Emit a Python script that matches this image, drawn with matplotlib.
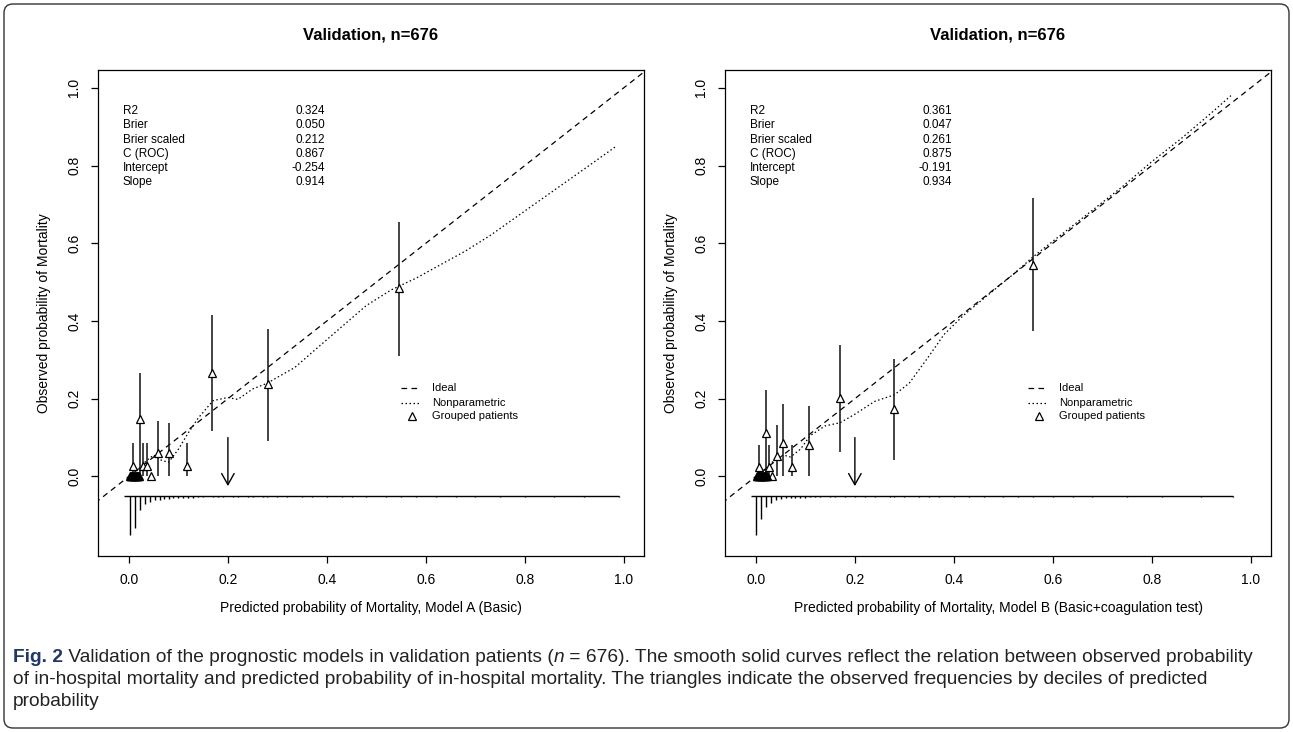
import matplotlib
matplotlib.use('Agg')
import matplotlib.pyplot as plt
from matplotlib.patches import FancyBboxPatch
from matplotlib.transforms import IdentityTransform

plt.rcParams['font.family'] = ['Liberation Sans', 'DejaVu Sans']

# statistics box
stat_names = ['R2', 'Brier', 'Brier scaled', 'C (ROC)', 'Intercept', 'Slope']
stats_a = ['0.324', '0.050', '0.212', '0.867', '-0.254', '0.914']
stats_b = ['0.361', '0.047', '0.261', '0.875', '-0.191', '0.934']

# grouped patients: predicted, observed, CI low, CI high
grp_a_x = [0.008, 0.023, 0.028, 0.037, 0.045, 0.059, 0.081, 0.117, 0.168, 0.282, 0.545]
grp_a_y = [0.028, 0.148, 0.028, 0.028, 0.0, 0.060, 0.059, 0.028, 0.265, 0.237, 0.484]
grp_a_lo = [0.0, 0.0, 0.0, 0.0, 0.0, 0.0, 0.0, 0.0, 0.117, 0.090, 0.311]
grp_a_hi = [0.086, 0.267, 0.086, 0.086, 0.0, 0.142, 0.138, 0.086, 0.415, 0.380, 0.655]
zero_a_x = [0.002, 0.0035, 0.005, 0.0065, 0.008, 0.0095, 0.011, 0.0125, 0.014,
            0.0155, 0.017, 0.0185, 0.020]

grp_b_x = [0.006, 0.021, 0.026, 0.033, 0.042, 0.054, 0.072, 0.108, 0.170, 0.280, 0.560]
grp_b_y = [0.024, 0.112, 0.024, 0.0, 0.052, 0.087, 0.024, 0.081, 0.203, 0.174, 0.545]
grp_b_lo = [0.0, 0.0, 0.0, 0.0, 0.0, 0.0, 0.0, 0.0, 0.062, 0.043, 0.373]
grp_b_hi = [0.081, 0.222, 0.081, 0.0, 0.131, 0.187, 0.081, 0.181, 0.338, 0.302, 0.717]
zero_b_x = [0.002, 0.0035, 0.005, 0.0065, 0.008, 0.0095, 0.011, 0.0125, 0.014,
            0.0155, 0.017, 0.0185, 0.020, 0.022]

# nonparametric calibration curves
np_a_x = [0.003, 0.02, 0.035, 0.05, 0.065, 0.08, 0.10, 0.12, 0.14, 0.17, 0.20, 0.22,
          0.25, 0.28, 0.30, 0.335, 0.38, 0.43, 0.48, 0.53, 0.58, 0.63, 0.68, 0.73,
          0.78, 0.83, 0.88, 0.93, 0.985]
np_a_y = [0.0, 0.02, 0.04, 0.055, 0.042, 0.036, 0.07, 0.112, 0.15, 0.195, 0.203, 0.198,
          0.225, 0.24, 0.255, 0.28, 0.33, 0.385, 0.44, 0.48, 0.51, 0.545, 0.58, 0.62,
          0.665, 0.71, 0.755, 0.80, 0.85]
np_b_x = [0.003, 0.02, 0.04, 0.055, 0.07, 0.09, 0.11, 0.14, 0.17, 0.20, 0.24, 0.28,
          0.31, 0.35, 0.38, 0.42, 0.47, 0.52, 0.56, 0.62, 0.68, 0.74, 0.80, 0.86, 0.92,
          0.96]
np_b_y = [0.0, 0.02, 0.045, 0.055, 0.05, 0.07, 0.105, 0.13, 0.138, 0.16, 0.193, 0.21,
          0.24, 0.31, 0.365, 0.415, 0.468, 0.52, 0.565, 0.625, 0.685, 0.745, 0.81, 0.87,
          0.935, 0.98]

# risk distribution spikes below the plot
rug_a_x = [0.002, 0.012, 0.022, 0.032, 0.042, 0.052, 0.062, 0.07, 0.08, 0.09, 0.10,
           0.11, 0.12, 0.13, 0.14, 0.15, 0.17, 0.18, 0.19, 0.21, 0.22, 0.24, 0.25, 0.27,
           0.28, 0.30, 0.32, 0.35, 0.37, 0.40, 0.43, 0.45, 0.48, 0.52, 0.55, 0.58, 0.62,
           0.66, 0.70, 0.75, 0.80, 0.86, 0.92, 0.99]
rug_a_len = [0.101, 0.082, 0.036, 0.022, 0.015, 0.012, 0.010, 0.008, 0.007, 0.006,
             0.006, 0.005, 0.005, 0.005, 0.004, 0.004, 0.004, 0.004, 0.004, 0.004,
             0.004, 0.004, 0.004, 0.004, 0.004, 0.004, 0.004, 0.004, 0.004, 0.004,
             0.004, 0.004, 0.004, 0.004, 0.004, 0.004, 0.004, 0.004, 0.004, 0.004,
             0.004, 0.004, 0.004, 0.004]
rug_b_x = [0.001, 0.011, 0.021, 0.030, 0.040, 0.050, 0.061, 0.07, 0.08, 0.09, 0.10,
           0.11, 0.12, 0.13, 0.15, 0.16, 0.18, 0.20, 0.22, 0.24, 0.27, 0.28, 0.30, 0.33,
           0.35, 0.37, 0.40, 0.43, 0.46, 0.50, 0.53, 0.56, 0.60, 0.64, 0.68, 0.75, 0.82,
           0.90, 0.965]
rug_b_len = [0.101, 0.060, 0.028, 0.019, 0.012, 0.009, 0.006, 0.006, 0.005, 0.005,
             0.005, 0.004, 0.004, 0.004, 0.004, 0.004, 0.004, 0.004, 0.004, 0.004,
             0.004, 0.004, 0.004, 0.004, 0.004, 0.004, 0.004, 0.004, 0.004, 0.004,
             0.004, 0.004, 0.004, 0.004, 0.004, 0.004, 0.004, 0.004, 0.004]

ticks = [0.0, 0.2, 0.4, 0.6, 0.8, 1.0]
tick_labels = ['0.0', '0.2', '0.4', '0.6', '0.8', '1.0']
cutoff = 0.2
rug_base = -0.05
rug_start = -0.01

caption_lines = [
    [('Fig. 2', 'bold', 'normal'),
     (' Validation of the prognostic models in validation patients (', 'normal', 'normal'),
     ('n', 'normal', 'italic'),
     (' = 676). The smooth solid curves reflect the relation between observed probability',
      'normal', 'normal')],
    [('of in-hospital mortality and predicted probability of in-hospital mortality. '
      'The triangles indicate the observed frequencies by deciles of predicted',
      'normal', 'normal')],
    [('probability', 'normal', 'normal')],
]

DASHED = (0, (4.5, 3.5))
DOTTED = (0, (1.2, 2.0))


def draw_panel(ax, title, xlabel, stats, gx, gy, glo, ghi, zx, cx, cy, rx, rlen):
    ax.set_xlim(-0.0625, 1.041)
    ax.set_ylim(-0.205, 1.046)

    # ideal line
    ax.plot([-0.1, 1.1], [-0.1, 1.1], color='black', lw=0.9, ls=DASHED)
    # nonparametric
    ax.plot(cx, cy, color='black', lw=0.9, ls=DOTTED)

    # grouped patients with CI bars
    ax.vlines(gx, glo, ghi, color='#111111', lw=1.1)
    ax.plot(gx, gy, ls='none', marker='^', ms=5.5, mfc='white', mec='black', mew=0.9)
    ax.plot(zx, [0.0] * len(zx), ls='none', marker='^', ms=5.5, mfc='none',
            mec='black', mew=1.0)

    # risk distribution
    ax.hlines(rug_base, rug_start, max(rx), color='black', lw=1.0)
    ax.vlines(rx, [rug_base - v for v in rlen], rug_base, color='black', lw=1.0)

    # cutoff arrow
    ax.annotate('', xy=(cutoff, -0.025), xytext=(cutoff, 0.1),
                arrowprops=dict(arrowstyle='->,head_length=0.8,head_width=0.45',
                                color='black', lw=1.0, shrinkA=0, shrinkB=0))

    # statistics
    for i, (name, val) in enumerate(zip(stat_names, stats)):
        yy = 0.94 - i * 0.0365
        ax.text(-0.012, yy, name, fontsize=8.5, va='center', ha='left')
        ax.text(0.396, yy, val, fontsize=8.5, va='center', ha='right')

    # legend
    leg_y = [0.228, 0.19, 0.155]
    ax.plot([0.55, 0.59], [leg_y[0]] * 2, color='black', lw=0.9, ls=DASHED)
    ax.plot([0.55, 0.59], [leg_y[1]] * 2, color='black', lw=0.9, ls=DOTTED)
    ax.plot([0.572], [leg_y[2]], ls='none', marker='^', ms=5.5, mfc='none',
            mec='black', mew=0.9)
    for yy, lab in zip(leg_y, ['Ideal', 'Nonparametric', 'Grouped patients']):
        ax.text(0.613, yy, lab, fontsize=8, va='center', ha='left')

    ax.set_xticks(ticks)
    ax.set_xticklabels(tick_labels)
    ax.set_yticks(ticks)
    ax.set_yticklabels(tick_labels)
    ax.tick_params(direction='out', length=5, width=0.9, labelsize=10, pad=7)
    for lab in ax.get_yticklabels():
        lab.set_rotation(90)
        lab.set_va('center')
    for sp in ax.spines.values():
        sp.set_linewidth(0.9)
    ax.set_title(title, fontsize=12, fontweight='bold', pad=22)
    ax.set_xlabel(xlabel, fontsize=10, labelpad=10)
    ax.set_ylabel('Observed probability of Mortality', fontsize=10, labelpad=12)


fig = plt.figure(figsize=(12.93, 7.32), dpi=100)
ax1 = fig.add_axes([0.0758, 0.2404, 0.4223, 0.664])
ax2 = fig.add_axes([0.5607, 0.2404, 0.4223, 0.664])

draw_panel(ax1, 'Validation, n=676',
           'Predicted probability of Mortality, Model A (Basic)',
           stats_a, grp_a_x, grp_a_y, grp_a_lo, grp_a_hi, zero_a_x,
           np_a_x, np_a_y, rug_a_x, rug_a_len)
draw_panel(ax2, 'Validation, n=676',
           'Predicted probability of Mortality, Model B (Basic+coagulation test)',
           stats_b, grp_b_x, grp_b_y, grp_b_lo, grp_b_hi, zero_b_x,
           np_b_x, np_b_y, rug_b_x, rug_b_len)

# rounded frame around figure and caption
box = FancyBboxPatch((4, 4), 1285, 724, boxstyle='round,pad=0,rounding_size=9',
                     transform=IdentityTransform(), fill=False, ec='#333333', lw=1.0)
fig.patches.append(box)

# caption, written run by run
renderer = fig.canvas.get_renderer()
cap_family = ['Liberation Sans Narrow', 'Liberation Sans']
cap_size = 12.5
line_y = [732 - 657, 732 - 680, 732 - 702]


def caption_width(runs, size):
    w = 0
    for txt, weight, style in runs:
        t = fig.text(0, 0, txt, fontsize=size, fontweight=weight, fontstyle=style,
                     family=cap_family, transform=IdentityTransform())
        w += t.get_window_extent(renderer).width
        t.remove()
    return w


cap_size = cap_size * 1250 / caption_width(caption_lines[0], cap_size)

for runs, yy in zip(caption_lines, line_y):
    x = 13
    for txt, weight, style in runs:
        color = '#1f3864' if weight == 'bold' else '#222222'
        t = fig.text(x, yy, txt, fontsize=cap_size, fontweight=weight, fontstyle=style,
                     family=cap_family, color=color, va='center',
                     transform=IdentityTransform())
        x += t.get_window_extent(renderer).width

fig.savefig('out.png', dpi=100)
